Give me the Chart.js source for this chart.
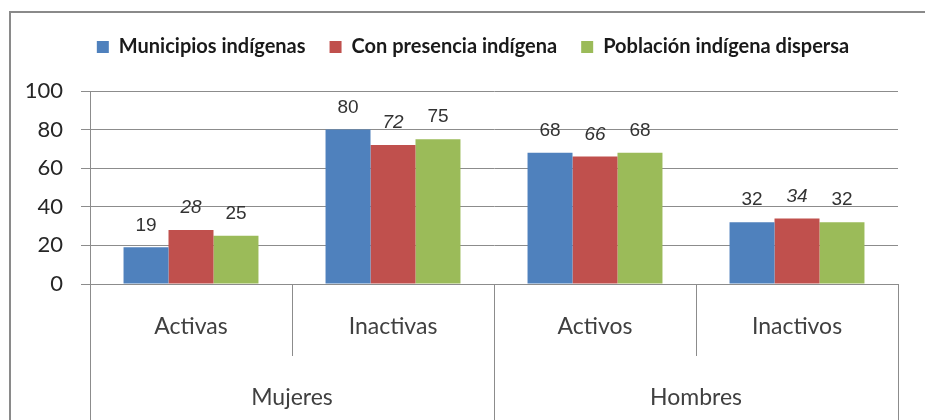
<!DOCTYPE html>
<html><head><meta charset="utf-8">
<script src="https://cdn.jsdelivr.net/npm/chart.js@4.4.1/dist/chart.umd.min.js"></script>
<style>html,body{margin:0;padding:0;background:#fff}#wrap{width:925px;height:420px;position:relative}</style>
</head><body><div id="wrap"><canvas id="c" width="925" height="420"></canvas></div>
<script>
// ---- data ----
const categories = ['Activas', 'Inactivas', 'Activos', 'Inactivos'];
const groups = ['Mujeres', 'Hombres'];
const groupSizes = [2, 2];
const seriesNames = ['Municipios indígenas', 'Con presencia indígena', 'Población indígena dispersa'];
const municipios = [19, 80, 68, 32];
const presencia = [28, 72, 66, 34];
const dispersa = [25, 75, 68, 32];
const yMin = 0, yMax = 100, yStep = 20;

const colors = ['#4F81BD', '#C0504D', '#9BBB59'];
const gridColor = '#8c8c8c';

const framePlugin = {
  id: 'frame',
  beforeDraw(chart) {
    const ctx = chart.ctx;
    ctx.save();
    ctx.fillStyle = '#fff';
    ctx.fillRect(0, 0, chart.width, chart.height);
    ctx.strokeStyle = '#8a8a8a';
    ctx.lineWidth = 2;
    ctx.strokeRect(10, 12, chart.width + 20, chart.height + 20);
    ctx.restore();
  }
};

const legendPatchPlugin = {
  id: 'legendPatch',
  afterInit(chart) {
    const lg = chart.legend;
    if (!lg || lg._patched) return;
    const origFit = lg.fit.bind(lg);
    lg.fit = function () { origFit(); this.height = 78; };
    const origDraw = lg.draw.bind(lg);
    lg.draw = function () {
      const ctx = this.ctx;
      ctx.save();
      ctx.translate(24, 0);
      origDraw();
      ctx.restore();
    };
    lg._patched = true;
  }
};

const hierAxisPlugin = {
  id: 'hierAxis',
  afterDraw(chart) {
    const ctx = chart.ctx, xs = chart.scales.x, area = chart.chartArea;
    const n = categories.length;
    const px = i => xs.getPixelForValue(i);
    const boundary = i => i === 0 ? area.left : (i === n ? area.right : (px(i - 1) + px(i)) / 2);
    const groupStarts = [0];
    groupSizes.forEach(s => groupStarts.push(groupStarts[groupStarts.length - 1] + s));
    ctx.save();
    ctx.strokeStyle = gridColor;
    ctx.lineWidth = 1;
    for (let i = 0; i <= n; i++) {
      const x = Math.round(boundary(i)) + 0.5;
      const isGroup = groupStarts.includes(i);
      ctx.beginPath();
      ctx.moveTo(x, area.bottom);
      ctx.lineTo(x, isGroup ? chart.height : area.bottom + 72);
      ctx.stroke();
    }
    ctx.fillStyle = '#404040';
    ctx.font = '23px Lato';
    ctx.textAlign = 'center';
    ctx.textBaseline = 'middle';
    groups.forEach((g, k) => {
      const cx = (boundary(groupStarts[k]) + boundary(groupStarts[k + 1])) / 2;
      ctx.fillText(g, cx, 398);
    });
    ctx.restore();
  }
};

const valueLabelPlugin = {
  id: 'valueLabels',
  afterDatasetsDraw(chart) {
    const ctx = chart.ctx;
    ctx.save();
    ctx.fillStyle = '#333';
    ctx.textAlign = 'center';
    ctx.textBaseline = 'middle';
    chart.data.datasets.forEach((ds, di) => {
      const meta = chart.getDatasetMeta(di);
      ctx.font = (di === 1 ? 'italic ' : '') + '19px "Liberation Sans", Arial, sans-serif';
      meta.data.forEach((el, i) => {
        ctx.fillText(String(ds.data[i]), el.x, el.y - 22);
      });
    });
    ctx.restore();
  }
};

function build() {
  Chart.defaults.font.family = 'Lato';
  new Chart(document.getElementById('c'), {
    type: 'bar',
    data: {
      labels: categories,
      datasets: [
        { label: seriesNames[0], data: municipios, backgroundColor: colors[0] },
        { label: seriesNames[1], data: presencia, backgroundColor: colors[1] },
        { label: seriesNames[2], data: dispersa, backgroundColor: colors[2] }
      ]
    },
    options: {
      responsive: false,
      animation: false,
      layout: { padding: { top: 13, right: 27, left: 0, bottom: 0 } },
      datasets: { bar: { categoryPercentage: 0.668, barPercentage: 1.0 } },
      plugins: {
        legend: {
          position: 'top',
          labels: {
            boxWidth: 12, boxHeight: 12, padding: 24,
            color: '#1a1a1a',
            font: { family: 'Lato', size: 20, weight: 'bold' }
          }
        },
        tooltip: { enabled: false }
      },
      scales: {
        y: {
          min: yMin, max: yMax,
          ticks: { stepSize: yStep, color: '#262626', padding: 18, font: { family: 'Lato', size: 22 } },
          grid: { color: gridColor, tickLength: 9, lineWidth: 1 },
          border: { display: true, color: gridColor },
          afterFit(s) { s.width = 90; }
        },
        x: {
          ticks: { color: '#404040', padding: 29, font: { family: 'Lato', size: 23 } },
          grid: { display: false, drawTicks: false },
          border: { display: true, color: gridColor },
          afterFit(s) { s.height = 136; }
        }
      }
    },
    plugins: [framePlugin, legendPatchPlugin, hierAxisPlugin, valueLabelPlugin]
  });
}
if (document.fonts && document.fonts.load) {
  Promise.all([document.fonts.load('22px Lato'), document.fonts.load('bold 20px Lato'), document.fonts.load('19px "Liberation Sans"'), document.fonts.load('italic 19px "Liberation Sans"')]).then(build, build);
} else build();
</script>
</body></html>
